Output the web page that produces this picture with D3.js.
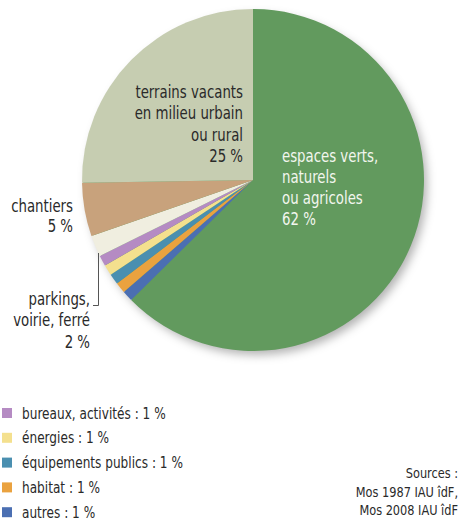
<!DOCTYPE html>
<html>
<head>
<meta charset="utf-8">
<script src="https://cdnjs.cloudflare.com/ajax/libs/d3/7.8.5/d3.min.js"></script>
<style>
  body { margin: 0; background: #fff; }
  svg text { font-family: "Liberation Sans Narrow", "DejaVu Sans Condensed", sans-serif; }
</style>
</head>
<body>
<div id="container"></div>
<script>
// slices, clockwise from 12 o'clock
var categories = ["espaces verts, naturels ou agricoles", "autres", "habitat",
    "équipements publics", "énergies", "bureaux, activités",
    "parkings, voirie, ferré", "chantiers", "terrains vacants en milieu urbain ou rural"]
var values = [62, 1, 1, 1, 1, 1, 2, 5, 25]
var colors = ["#629a5e", "#4b6fb2", "#eaa23f", "#4a8fb0", "#f4e08e", "#b58bc3",
    "#f0eee0", "#c8a27c", "#c6cdb1"]

var legendItems = ["bureaux, activités : 1 %", "énergies : 1 %", "équipements publics : 1 %",
    "habitat : 1 %", "autres : 1 %"]
var legendColors = ["#b58bc3", "#f4e08e", "#4a8fb0", "#eaa23f", "#4b6fb2"]
var sources = ["Sources :", "Mos 1987 IAU îdF,", "Mos 2008 IAU îdF"]

var width = 460, height = 520
var cx = 253, cy = 180, radius = 171
var squeeze = 0.87  // narrow the font a bit, the original uses a condensed face

var svg = d3.select("#container").append("svg")
    .attr("width", width)
    .attr("height", height)

var defs = svg.append("defs")
var f = defs.append("filter").attr("id", "shadow")
    .attr("x", "-20%").attr("y", "-20%").attr("width", "140%").attr("height", "140%")
f.append("feDropShadow")
    .attr("dx", 4).attr("dy", 5)
    .attr("stdDeviation", 5)
    .attr("flood-color", "#000")
    .attr("flood-opacity", 0.3)

var data = categories.map(function(c, i) { return { name: c, value: values[i], color: colors[i] } })

var pie = d3.pie().sort(null).value(function(d) { return d.value })
var arc = d3.arc().innerRadius(0).outerRadius(radius)

var g = svg.append("g")
    .attr("transform", "translate(" + cx + "," + cy + ")")

g.append("circle")
    .attr("r", radius - 1)
    .attr("fill", "#629a5e")
    .attr("filter", "url(#shadow)")

g.selectAll("path.slice")
    .data(pie(data))
    .enter().append("path")
    .attr("class", "slice")
    .attr("d", arc)
    .attr("fill", function(d) { return d.data.color })

// text block, squeezed horizontally around its anchor point
function block(lines, x, y, anchor, fill, size, step) {
    var t = svg.append("g")
        .attr("transform", "translate(" + x + "," + y + ") scale(" + squeeze + ",1)")
        .append("text")
        .attr("text-anchor", anchor)
        .attr("fill", fill)
        .style("font-size", size + "px")
    lines.forEach(function(l, i) {
        t.append("tspan").attr("x", 0).attr("y", i * step).text(l)
    })
}

block(["terrains vacants", "en milieu urbain", "ou rural", "25 %"], cx - 10, cy - 82, "end", "#2a2a2a", 17, 21.5)
block(["espaces verts,", "naturels", "ou agricoles", "62 %"], cx + 29, cy - 18, "start", "#f2f6ee", 17, 21)
block(["chantiers", "5 %"], 73, 212, "end", "#2a2a2a", 17, 20.5)
block(["parkings,", "voirie, ferré", "2 %"], 90, 305, "end", "#2a2a2a", 17, 21.5)

// bracket for parkings
svg.append("path")
    .attr("d", "M98.5,253 V305.5 H93")
    .attr("fill", "none")
    .attr("stroke", "#555")
    .attr("stroke-width", 1)

// legend
var leg = svg.append("g")
leg.selectAll("rect")
    .data(legendItems)
    .enter().append("rect")
    .attr("x", 2)
    .attr("y", function(d, i) { return 408 + i * 24.8 })
    .attr("width", 10).attr("height", 10)
    .attr("fill", function(d, i) { return legendColors[i] })
legendItems.forEach(function(d, i) {
    block([d], 22, 418.5 + i * 24.8, "start", "#2a2a2a", 15.5, 0)
})

sources.forEach(function(d, i) {
    block([d], 458, 478 + i * 18.5, "end", "#2a2a2a", 14.5, 0)
})
</script>
</body>
</html>
